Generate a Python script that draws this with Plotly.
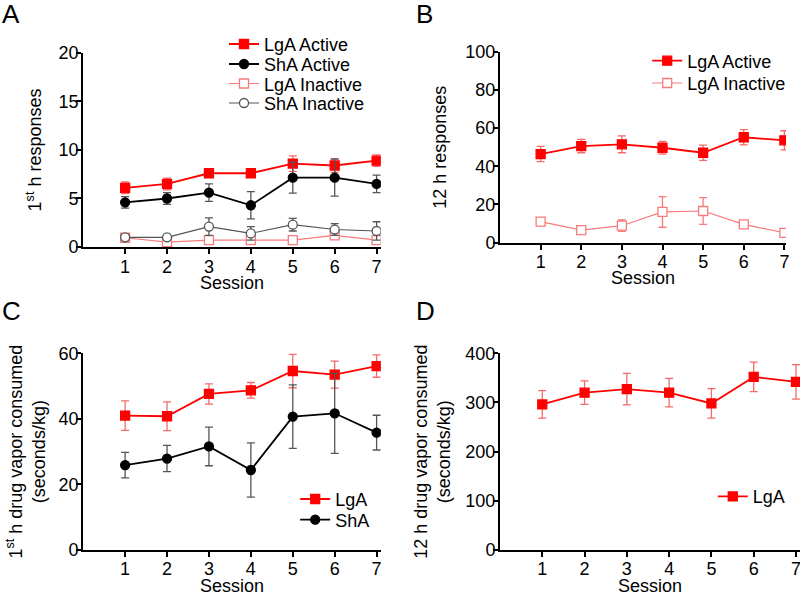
import plotly.graph_objects as go

sessions = [1, 2, 3, 4, 5, 6, 7]

# Panel A: 1st h responses
a_lga_act = [6.1, 6.5, 7.6, 7.6, 8.6, 8.4, 8.9]
a_lga_act_err = [0.6, 0.6, 0.4, 0.2, 0.8, 0.7, 0.6]
a_sha_act = [4.6, 5.0, 5.6, 4.3, 7.15, 7.15, 6.5]
a_sha_act_err = [0.6, 0.6, 0.9, 1.4, 1.6, 1.9, 0.9]
a_lga_inact = [0.95, 0.5, 0.7, 0.7, 0.7, 1.2, 0.7]
a_lga_inact_err = [0.3, 0.15, 0.2, 0.2, 0.2, 0.3, 0.2]
a_sha_inact = [1.0, 1.0, 2.1, 1.4, 2.3, 1.8, 1.65]
a_sha_inact_err = [0.3, 0.1, 0.9, 0.7, 0.65, 0.6, 0.95]

# Panel B: 12 h responses
b_lga_act = [46.4, 50.6, 51.5, 49.7, 47.1, 55.2, 53.6]
b_lga_act_err = [4.0, 3.5, 4.4, 3.3, 4.0, 4.0, 5.0]
b_lga_inact = [11.0, 6.6, 8.9, 16.1, 16.6, 9.6, 5.2]
b_lga_inact_err = [1.0, 1.0, 3.0, 8.0, 7.0, 1.0, 1.0]

# Panel C: 1st h drug vapor consumed
c_lga = [41.0, 40.8, 47.6, 48.7, 54.6, 53.5, 56.1]
c_lga_err = [4.5, 4.4, 3.1, 2.4, 5.1, 4.1, 3.4]
c_sha = [25.9, 27.9, 31.6, 24.4, 40.7, 41.7, 35.8]
c_sha_err = [3.9, 4.0, 5.9, 8.3, 9.7, 12.2, 5.3]

# Panel D: 12 h drug vapor consumed
d_lga = [296, 320, 327, 320, 298, 352, 342]
d_lga_err = [28, 24, 32, 29, 30, 30, 35]

RED = "#ff0000"
RED_ERR = "#f56a6a"
LIGHT_RED = "#f77b7b"
BLACK = "#000000"
GRAY = "#555555"
FONT = "Liberation Sans, Arial, sans-serif"
FS = 18

fig = go.Figure()


def add(x, y, err, name, xa, ya, leg, symbol, fill, line_color, err_color, lw, size=9):
    fig.add_trace(go.Scatter(
        x=x, y=y, name=name, mode="lines+markers",
        xaxis=xa, yaxis=ya, legend=leg,
        line=dict(color=line_color, width=lw),
        marker=dict(symbol=symbol, size=size, color=fill,
                    line=dict(color=line_color, width=1.3)),
        error_y=dict(type="data", array=err, visible=True,
                     color=err_color, thickness=1.3, width=4),
    ))


add(sessions, a_lga_act, a_lga_act_err, "LgA Active", "x", "y", "legend",
    "square", RED, RED, RED_ERR, 1.8)
add(sessions, a_sha_act, a_sha_act_err, "ShA Active", "x", "y", "legend2",
    "circle", BLACK, BLACK, GRAY, 1.8)
add(sessions, a_lga_inact, a_lga_inact_err, "LgA Inactive", "x", "y", "legend3",
    "square", "white", LIGHT_RED, LIGHT_RED, 1.2)
add(sessions, a_sha_inact, a_sha_inact_err, "ShA Inactive", "x", "y", "legend4",
    "circle", "white", GRAY, GRAY, 1.2)

add(sessions, b_lga_act, b_lga_act_err, "LgA Active", "x2", "y2", "legend5",
    "square", RED, RED, RED_ERR, 1.8)
add(sessions, b_lga_inact, b_lga_inact_err, "LgA Inactive", "x2", "y2", "legend6",
    "square", "white", LIGHT_RED, LIGHT_RED, 1.2)

add(sessions, c_lga, c_lga_err, "LgA", "x3", "y3", "legend7",
    "square", RED, RED, RED_ERR, 1.8)
add(sessions, c_sha, c_sha_err, "ShA", "x3", "y3", "legend8",
    "circle", BLACK, BLACK, GRAY, 1.8)

add(sessions, d_lga, d_lga_err, "LgA", "x4", "y4", "legend9",
    "square", RED, RED, RED_ERR, 1.8)

axis_common = dict(showline=True, linecolor="black", linewidth=2,
                   ticks="outside", ticklen=5, tickwidth=2, tickcolor="black",
                   showgrid=False, zeroline=False, automargin=False,
                   ticklabeloverflow="allow",
                   tickfont=dict(family=FONT, size=FS, color="black"))

xt = dict(tickmode="array", tickvals=sessions, ticktext=[str(s) for s in sessions])

yt = dict(ticklabelstandoff=-6)

leg_common = dict(xanchor="left", yanchor="middle", bgcolor="rgba(0,0,0,0)",
                  font=dict(family=FONT, size=FS, color="black"))


def ly(px):
    return 1 - px / 594


fig.update_layout(
    width=800, height=594,
    margin=dict(l=0, r=0, t=0, b=0, autoexpand=False),
    paper_bgcolor="white", plot_bgcolor="white",
    font=dict(family=FONT, size=FS, color="black"),
    xaxis=dict(domain=[0.104, 0.476], range=[0, 7.1], anchor="y",
               ticklabelstandoff=-3, **axis_common, **xt),
    yaxis=dict(domain=[0.5842, 0.9108], range=[0, 20], anchor="x",
               tickvals=[0, 5, 10, 15, 20],
               title=dict(text="1<sup>st</sup> h responses", standoff=12,
                          font=dict(family=FONT, size=FS)), **axis_common, **yt),
    xaxis2=dict(domain=[0.625, 0.9825], range=[0, 7.04], anchor="y2",
                ticklabelstandoff=-3, **axis_common, **xt),
    yaxis2=dict(domain=[0.5914, 0.913], range=[0, 100], anchor="x2",
                tickvals=[0, 20, 40, 60, 80, 100],
                title=dict(text="12 h responses", standoff=14,
                           font=dict(family=FONT, size=FS)), **axis_common, **yt),
    xaxis3=dict(domain=[0.104, 0.476], range=[0, 7.1], anchor="y3",
                ticklabelstandoff=-4, **axis_common, **xt),
    yaxis3=dict(domain=[0.0741, 0.4052], range=[0, 60], anchor="x3",
                tickvals=[0, 20, 40, 60],
                title=dict(text="1<sup>st</sup> h drug vapor consumed<br>(seconds/kg)", standoff=8,
                           font=dict(family=FONT, size=FS)), **axis_common, **yt),
    xaxis4=dict(domain=[0.625, 1.0], range=[0, 7.095], anchor="y4",
                ticklabelstandoff=-4, **axis_common, **xt),
    yaxis4=dict(domain=[0.0741, 0.4052], range=[0, 400], anchor="x4",
                tickvals=[0, 100, 200, 300, 400],
                title=dict(text="12 h drug vapor consumed<br>(seconds/kg)", standoff=10,
                           font=dict(family=FONT, size=FS)), **axis_common, **yt),
    legend=dict(x=0.28, y=ly(44.3), **leg_common),
    legend2=dict(x=0.28, y=ly(64.3), **leg_common),
    legend3=dict(x=0.28, y=ly(83.8), **leg_common),
    legend4=dict(x=0.28, y=ly(103.3), **leg_common),
    legend5=dict(x=0.809, y=ly(61), **leg_common),
    legend6=dict(x=0.809, y=ly(83.3), **leg_common),
    legend7=dict(x=0.369, y=ly(499.3), **leg_common),
    legend8=dict(x=0.369, y=ly(520), **leg_common),
    legend9=dict(x=0.891, y=ly(496.7), **leg_common),
    showlegend=True,
)

# x-axis titles
for xref, ypx in [("x domain", 283), ("x2 domain", 278), ("x3 domain", 586), ("x4 domain", 586)]:
    fig.add_annotation(text="Session", x=0.5, y=ly(ypx), xref=xref, yref="paper",
                       xanchor="center", yanchor="middle", showarrow=False,
                       font=dict(family=FONT, size=FS, color="black"))

# panel letters
for txt, x, y in [("A", 0.0, ly(14)), ("B", 0.517, ly(14)), ("C", 0.0, ly(311)), ("D", 0.517, ly(311))]:
    fig.add_annotation(text=txt, x=x, y=y, xref="paper", yref="paper",
                       xanchor="left", yanchor="middle", showarrow=False,
                       font=dict(family=FONT, size=26, color="black"))

fig.write_html("out.html", config={"displayModeBar": False},
               post_script="document.body.style.margin='0';")
